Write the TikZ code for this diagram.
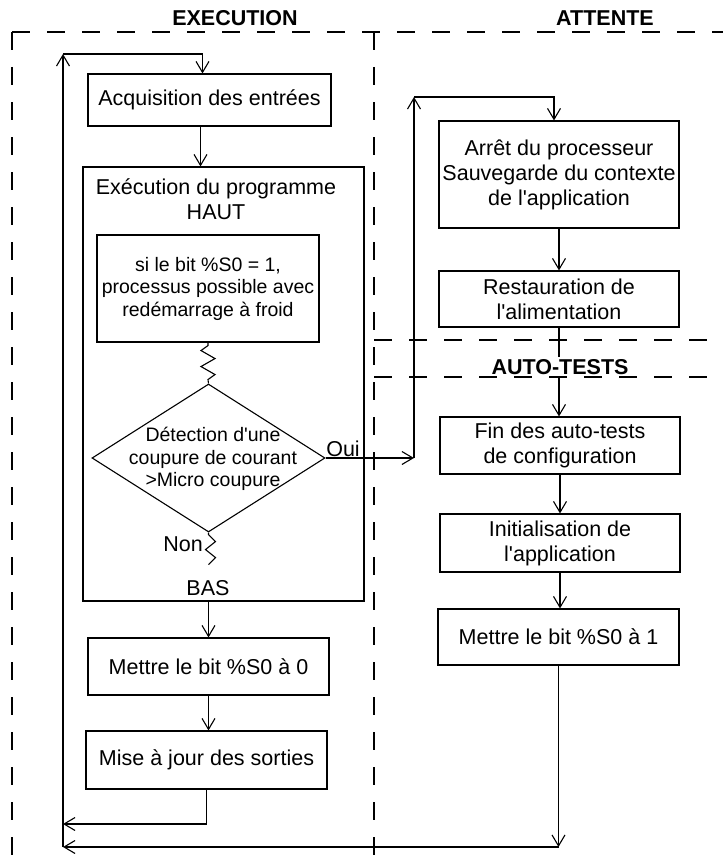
\documentclass[tikz,border=0pt]{standalone}
\usepackage{fontspec}
\setmainfont{Liberation Sans}
\usetikzlibrary{arrows.meta, shapes.geometric}
\newcommand{\dfont}{\fontsize{21.5}{25}\selectfont}
\newcommand{\sfont}{\fontsize{19.5}{22.5}\selectfont}

\begin{document}
\begin{tikzpicture}[
  x=1pt, y=-1pt,
  box/.style={rectangle, draw, line width=1.1pt, align=center,
              inner sep=0pt, font=\dfont},
  txt/.style={align=center, inner sep=0pt, font=\dfont},
  title/.style={inner sep=2pt, font=\dfont\bfseries},
  arr/.style={-{Straight Barb[length=11pt, width=13pt]}, line width=1.1pt},
  wire/.style={line width=1.1pt},
  zone/.style={line width=1.1pt, dash pattern=on 18pt off 17pt},
]
  \useasboundingbox (0,0) rectangle (723,867);

  % EXECUTION column
  \node[box, minimum width=243pt, minimum height=52pt] (acq) at (209.5,100)
    {Acquisition des entrées};
  \node[box, minimum width=281pt, minimum height=434pt] (prog) at (223.5,384) {};
  \node[txt] (progtop) at (216,199) {Exécution du programme\\HAUT};
  \node[box, font=\sfont, minimum width=222pt, minimum height=107pt] (cond) at (208,288.5)
    {si le bit \%S0 = 1,\\processus possible avec\\redémarrage à froid};
  \node[diamond, draw, line width=1.1pt, minimum width=233pt, minimum height=148pt,
        inner sep=0pt] (detect) at (208.5,458) {};
  \node[txt, font=\sfont] (detecttxt) at (213,459)
    {Détection d\textquotesingle une\\coupure de courant\\>Micro coupure};
  \node[txt] (oui) at (343,449) {Oui};
  \node[txt] (non) at (183,544) {Non};
  \node[txt] (bas) at (208,588) {BAS};
  \node[box, minimum width=241pt, minimum height=57pt] (mettre0) at (208.5,666.5)
    {Mettre le bit \%S0 à 0};
  \node[box, minimum width=241pt, minimum height=58pt] (mise) at (206.5,760)
    {Mise à jour des sorties};

  % ATTENTE / AUTO-TESTS column
  \node[box, minimum width=240pt, minimum height=107pt] (arret) at (559,174.5)
    {Arrêt du processeur\\Sauvegarde du contexte\\de l\textquotesingle application};
  \node[box, minimum width=240pt, minimum height=56pt] (resto) at (559,299)
    {Restauration de\\l\textquotesingle alimentation};
  \node[box, minimum width=240pt, minimum height=57pt] (fin) at (560,445.5)
    {Fin des auto-tests\\de configuration};
  \node[box, minimum width=240pt, minimum height=58pt] (init) at (560,543)
    {Initialisation de\\l\textquotesingle application};
  \node[box, minimum width=241pt, minimum height=56pt] (mettre1) at (558.5,637)
    {Mettre le bit \%S0 à 1};

  \coordinate (lb) at (63,847);
  \coordinate (lt) at (63,54);
  \coordinate (lo) at (63,824);
  \coordinate (rt) at (414,97);
  \coordinate (ro) at (414,458);
  \coordinate (rb) at (mettre1.south |- lb);

  % cycle
  \draw[arr] (lb) -- (lt);
  \draw[arr] (lt) -| ([xshift=-7pt]acq.north);
  \draw[arr] ([xshift=-9pt]acq.south) -- ([xshift=-9pt]acq.south |- prog.north);
  \draw[wire] (cond.south) -- ++(0,3) -- ++(-7,5) -- ++(14,8) -- ++(-14,8)
    -- ++(14,8) -- ++(-7,5) -- (detect.north);
  \draw[wire] (detect.south) -- ++(0,2) -- ++(7,7) -- ++(-10,8) -- ++(10,8) -- ++(-7,7);
  \draw[arr] (mettre0.north |- prog.south) -- (mettre0.north);
  \draw[arr] (mettre0.south) -- (mettre0.south |- mise.north);
  \draw[arr] (mise.south) |- (lo);

  % power cut
  \draw[arr] (detect.east) -- (ro);
  \draw[arr] (ro) -- (rt);
  \draw[arr] (rt) -| ([xshift=-5pt]arret.north);
  \draw[arr] (arret.south) -- (resto.north);
  \draw[arr] (resto.south) -- (resto.south |- fin.north);
  \draw[arr] (fin.south) -- (init.north);
  \draw[arr] (init.south) -- (init.south |- mettre1.north);
  \draw[arr] (mettre1.south) -- (rb);
  \draw[arr] (rb) -- (lb);

  % zones
  \node[title] (exe) at (235,18) {EXECUTION};
  \node[title] (att) at (605,18) {ATTENTE};
  \node[title, fill=white] (auto) at (560,367) {AUTO-TESTS};
  \draw[zone] (12,32) -- (723,32);
  \draw[zone] (12,32) -- (12,867);
  \draw[zone] (374,32) -- (374,867);
  \draw[zone] (374,340) -- (723,340);
  \draw[zone] (374,377) -- (723,377);
\end{tikzpicture}
\end{document}
